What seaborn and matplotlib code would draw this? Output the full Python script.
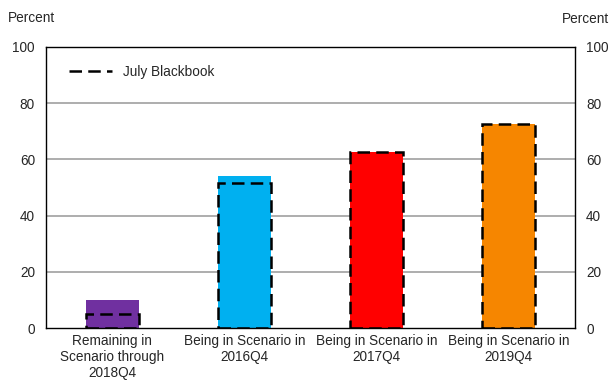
import matplotlib
matplotlib.use("Agg")
import matplotlib.pyplot as plt
from matplotlib.lines import Line2D
import pandas as pd
import seaborn as sns

categories = ["Remaining in\nScenario through\n2018Q4",
              "Being in Scenario in\n2016Q4",
              "Being in Scenario in\n2017Q4",
              "Being in Scenario in\n2019Q4"]
current = [10, 54, 62.7, 72.5]
july_blackbook = [5, 51.7, 62.7, 72.5]
bar_colors = ["#7030A0", "#00B0F0", "#FF0000", "#F68600"]

df = pd.DataFrame({"cat": categories, "current": current, "july": july_blackbook})

sns.set_style("white")
plt.rcParams["font.family"] = ["Liberation Sans Narrow", "Liberation Sans", "DejaVu Sans"]
fs = 9.8

fig = plt.figure(figsize=(6.1, 3.91), dpi=100)
ax = fig.add_axes([0.0754, 0.161, 0.8672, 0.719])

dash = (0, (5, 2.5))
sns.barplot(data=df, x="cat", y="current", hue="cat", palette=bar_colors,
            saturation=1, width=0.4, legend=False, ax=ax, zorder=2, linewidth=0)
sns.barplot(data=df, x="cat", y="july", fill=False, color="black",
            width=0.4, ax=ax, zorder=3, linestyle=dash, linewidth=1.8)

ax.set_ylim(0, 100)
ax.set_xlim(-0.5, 3.5)
ax.set_yticks([0, 20, 40, 60, 80, 100])
for y in [20, 40, 60, 80]:
    ax.axhline(y, color="#a0a0a0", lw=1.2, zorder=1)
ax.set_xlabel("")
ax.set_ylabel("")
ax.tick_params(axis="both", length=0, pad=8, labelsize=fs)
ax.tick_params(axis="x", pad=4)
ax.tick_params(axis="y", labelright=True)
for s in ax.spines.values():
    s.set_visible(True)
    s.set_color("black")
    s.set_linewidth(1.0)

fig.text(0.013, 0.945, "Percent", fontsize=fs)
fig.text(0.998, 0.94, "Percent", fontsize=fs, ha="right")

handle = Line2D([], [], color="black", linestyle=dash, lw=1.8)
ax.legend([handle], ["July Blackbook"], loc="upper left", frameon=False,
          handlelength=3.2, bbox_to_anchor=(0.02, 0.98), fontsize=fs)

fig.savefig("out.png", dpi=100)
